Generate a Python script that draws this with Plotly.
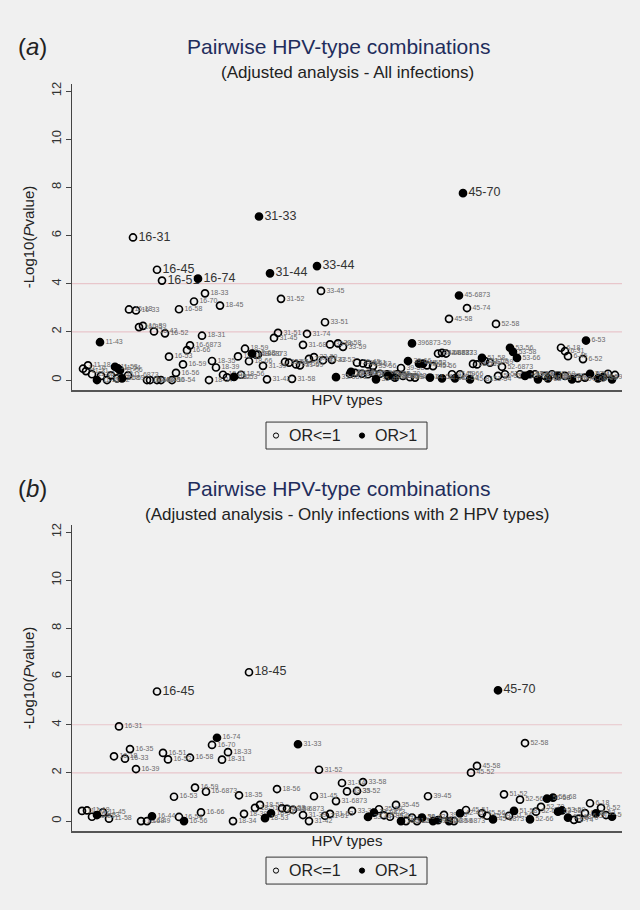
import plotly.graph_objects as go

# ---------------- Panel (a): all infections ----------------
a_labels = ["16-31","31-33","16-45","16-51","16-74","31-44","33-44","45-70",
 "18-33","16-70","18-45","16-58","31-52","33-45","16-18","16-33","16-35","16-39","16-42","16-52",
 "18-31","11-43","16-6873","16-66","16-53","16-59","16-56","18-35","18-39","18-59",
 "18-68","18-6873","18-66","31-39","31-51","31-45","31-74","31-68","31-53","31-54",
 "31-56","31-59","33-35","33-39","33-42","33-52","31-42","31-58","33-6873","18-34",
 "18-53","18-56","18-51","18-52","33-56","33-58","33-59","11-16","11-18","11-31",
 "11-53","11-54","11-56","11-33","11-35","11-39","11-42","11-45","11-58","11-59",
 "11-6873","16-44","16-48","16-49","16-50","16-54","18-58","18-70","35-39","45-6873",
 "45-74","45-58","52-58","33-51","6-53","396873-59","39-6873","42-6873","44-6873","53-56",
 "53-58","53-66","6-18","6-31","6-45","6-52","39-66","44-52","45-52","39-58",
 "45-51","45-56","51-58","51-52","51-53","51-56","51-59","52-6873","35-45","35-51",
 "35-52","35-56","33-70","35-42","35-53","35-54","35-58","35-59","35-66","35-68",
 "35-70","39-42","39-44","39-51","45-59","45-66","51-54","52-53","52-54","53-59",
 "54-56","56-59","58-59","6-39","6-44","6-51","6-70","6-74","35-44","35-6873",
 "39-40","44-51","44-58","45-54","45-81","53-70","53-6873","54-58","56-66","59-66",
 "6-40","6-54","6-58","6-59","6-68"]
a_order = [12.2,37.4,17.0,18.0,25.2,39.6,49.0,78.2,
 26.6,24.4,29.6,21.4,41.8,49.8,11.4,12.8,13.4,14.2,16.4,18.6,
 26.0,5.6,23.6,23.0,19.4,22.2,20.8,28.0,28.8,34.6,
 36.0,36.8,35.4,38.2,41.2,40.4,47.0,46.2,42.6,43.4,
 44.8,45.6,47.4,48.4,50.2,52.0,39.0,44.0,52.8,27.4,
 32.4,33.8,30.2,31.0,51.6,53.2,54.2,2.2,3.2,2.8,
 8.6,9.2,9.6,4.0,5.8,5.0,7.0,7.8,9.0,10.0,
 11.2,15.0,15.6,17.0,17.8,20.0,33.2,37.2,55.6,77.4,
 79.0,75.4,84.8,50.6,102.8,68.0,73.2,74.0,74.8,87.6,
 88.2,89.0,97.8,98.6,99.2,102.2,67.2,69.4,70.2,65.8,
 71.0,72.2,82.0,80.2,81.0,82.6,83.6,86.0,57.0,58.2,
 59.2,60.2,55.8,56.6,58.0,59.2,60.2,61.6,63.0,64.0,
 65.0,66.2,67.6,68.6,76.0,77.6,83.2,85.2,86.6,89.6,
 92.6,94.6,96.0,98.6,101.2,102.6,107.2,108.6,60.8,63.2,
 64.6,71.6,74.0,76.6,79.6,90.6,91.6,93.2,95.2,97.2,
 100.0,103.6,105.2,106.2,108.0]
a_logp = [5.92,6.79,4.58,4.13,4.21,4.43,4.73,7.76,
 3.60,3.26,3.09,2.94,3.37,3.70,2.93,2.89,2.20,2.25,2.02,1.94,
 1.84,1.57,1.44,1.24,0.97,0.65,0.30,0.79,0.52,1.30,
 1.10,1.05,0.78,0.59,1.96,1.75,1.92,1.46,0.75,0.72,
 0.65,0.61,0.88,0.95,0.82,0.84,0.03,0.05,0.12,0.00,
 0.13,0.22,0.22,0.11,1.48,1.52,1.38,0.47,0.61,0.37,
 0.55,0.48,0.41,0.24,0.17,0.00,0.00,0.19,0.07,0.07,
 0.19,0.00,0.00,0.00,0.00,0.00,0.98,1.06,0.25,3.51,
 2.99,2.54,2.33,2.40,1.64,1.52,1.10,1.13,1.10,1.34,
 1.17,0.92,1.34,1.20,0.99,0.87,0.79,0.68,0.68,0.50,
 0.61,0.58,0.92,0.67,0.65,0.79,0.72,0.55,0.72,0.69,
 0.65,0.58,0.34,0.30,0.26,0.24,0.30,0.26,0.24,0.17,
 0.24,0.17,0.12,0.10,0.24,0.24,0.03,0.17,0.24,0.24,
 0.24,0.17,0.24,0.17,0.07,0.10,0.26,0.21,0.03,0.17,
 0.10,0.10,0.07,0.07,0.03,0.17,0.24,0.03,0.07,0.17,
 0.03,0.26,0.07,0.12,0.03]
a_or_gt1 = [0,1,0,0,1,1,1,1,
 0,0,0,0,0,0,0,0,0,0,0,0,
 0,1,0,0,0,0,0,0,0,0,
 1,0,0,0,0,0,0,0,0,0,
 0,0,0,0,0,0,0,0,1,0,
 1,0,0,0,0,0,0,0,0,0,
 1,1,1,0,0,1,0,0,0,1,
 0,0,0,0,0,0,0,0,0,1,
 0,0,0,0,1,1,0,0,0,1,
 1,1,0,0,0,0,1,1,1,0,
 0,0,1,0,0,0,0,0,0,0,
 0,0,1,0,0,0,0,0,0,0,
 0,0,0,0,0,0,0,0,0,0,
 0,0,0,0,0,0,0,0,1,1,
 1,1,1,1,1,1,1,1,1,1,
 1,1,1,1,1]
a_big = ["16-31","31-33","16-45","16-51","16-74","31-44","33-44","45-70"]

# ---------------- Panel (b): only infections with 2 HPV types ----------------
b_labels = ["18-45","16-45","45-70","16-31","16-74","31-33","16-70","16-35","18-33","16-51",
 "16-18","16-33","16-52","16-58","18-31","16-39","31-52","16-59","16-6873","16-53",
 "18-35","18-56","31-45","31-6873","31-74","33-58","33-35","33-52","39-45","51-52",
 "52-56","56-58","56-68","6-18","6-52","6-59","6-56","52-70","52-68","51-58",
 "51-56","52-66","53-58","53-59","53-68","6-74","6-70","6-45","6-53","33-39",
 "33-44","33-6873","35-39","35-42","35-44","35-45","35-51","35-52","35-56","35-58",
 "39-42","39-51","39-52","39-59","39-56","39-6873","42-45","45-51","45-56","45-59",
 "45-6873","45-58","45-52","52-58","11-16","11-18","11-31","11-33","11-45","11-58",
 "16-44","16-54","16-56","16-66","16-48","16-49","18-34","18-39","18-51","18-52",
 "18-54","18-53","18-58","18-59","18-6873","31-39","31-42","31-51","31-53"]
b_order = [35.4,17.0,85.2,9.4,29.0,45.2,28.0,11.6,31.2,18.2,
 8.4,10.6,19.2,23.6,30.0,12.8,49.4,24.6,26.8,20.4,
 33.4,41.0,48.4,52.8,54.0,58.2,55.0,57.0,71.2,86.4,
 89.6,95.0,96.2,103.6,105.8,108.0,106.8,93.8,92.8,88.4,
 87.4,91.6,97.2,98.0,99.2,100.4,101.4,102.6,104.8,56.0,
 59.2,60.4,61.4,62.4,63.6,64.8,65.8,66.8,68.0,69.0,
 70.0,72.2,73.2,75.4,74.4,76.4,77.6,78.8,82.0,83.0,
 84.2,81.0,79.8,90.6,2.0,3.0,4.0,5.0,6.2,7.4,
 16.0,21.4,22.4,25.8,13.8,15.0,32.2,34.4,36.6,37.6,
 39.8,38.6,42.0,43.0,44.2,46.2,47.4,50.6,51.6]
b_logp = [6.18,5.38,5.43,3.93,3.46,3.19,3.16,2.99,2.86,2.83,
 2.69,2.59,2.56,2.63,2.55,2.16,2.13,1.39,1.22,1.01,
 1.07,1.33,1.03,0.83,1.58,1.62,1.23,1.25,1.03,1.11,
 0.89,0.93,0.97,0.74,0.55,0.18,0.25,0.59,0.39,0.42,
 0.22,0.07,0.39,0.44,0.14,0.05,0.10,0.33,0.32,0.42,
 0.17,0.35,0.49,0.24,0.18,0.67,0.00,0.00,0.14,0.00,
 0.14,0.00,0.04,0.00,0.26,0.00,0.32,0.46,0.32,0.22,
 0.07,2.29,2.01,3.24,0.42,0.44,0.18,0.25,0.36,0.10,
 0.20,0.17,0.00,0.36,0.00,0.00,0.00,0.30,0.55,0.67,
 0.32,0.12,0.53,0.51,0.47,0.25,0.00,0.22,0.30]
b_or_gt1 = [0,0,1,0,1,1,0,0,0,0,
 0,0,0,0,0,0,0,0,0,0,
 0,0,0,0,0,0,0,0,0,0,
 0,1,1,0,0,1,0,0,0,1,
 0,1,1,1,1,0,0,0,1,0,
 1,1,0,0,0,0,1,0,0,0,
 1,1,1,1,0,0,1,0,0,0,
 1,0,0,0,0,0,0,1,0,0,
 1,0,1,0,0,0,0,0,0,0,
 1,1,0,0,0,0,0,0,0]
b_big = ["18-45","16-45","45-70"]

y_ticks = [0, 2, 4, 6, 8, 10, 12]
legend_names = ["OR<=1", "OR>1"]

FONT = "Liberation Sans, Arial, sans-serif"
BG = "#f0f0f0"
X_MAX = 110
W, H = 640, 910

fig = go.Figure()


def add_panel(labels, order, logp, orflag, big, xa, ya):
    for flag in (0, 1):
        idx = [i for i in range(len(labels)) if orflag[i] == flag]
        lab = [labels[i] for i in idx]
        xs = [order[i] for i in idx]
        sizes = [12.5 if l in big else 7 for l in lab]
        cols = ["#333333" if l in big else "#6a6a6a" for l in lab]
        pos = ["middle left" if x > X_MAX - 3 else "middle right" for x in xs]
        fig.add_trace(go.Scatter(
            x=xs, y=[logp[i] for i in idx], name=legend_names[flag],
            text=lab, mode="markers+text", textposition=pos,
            textfont=dict(size=sizes, color=cols, family=FONT),
            marker=dict(symbol="circle-open" if flag == 0 else "circle",
                        size=7, color="black", line=dict(width=1.7, color="black")),
            xaxis=xa, yaxis=ya, showlegend=False, hoverinfo="text"))


add_panel(a_labels, a_order, a_logp, a_or_gt1, a_big, "x", "y")
add_panel(b_labels, b_order, b_logp, b_or_gt1, b_big, "x2", "y2")

xdom = [72/W, 622/W]
ydom_a = [(H-389)/H, (H-82)/H]
ydom_b = [(H-831)/H, (H-524)/H]

xcommon = dict(range=[0, X_MAX], showticklabels=False, ticks="", showgrid=False,
               zeroline=False, showline=True, linecolor="#555555", linewidth=1.6,
               title=dict(text="HPV types", font=dict(size=15, color="#222", family=FONT), standoff=4))
ycommon = dict(range=[-0.42, 12.3], tickvals=y_ticks, tickangle=-90, ticks="outside",
               ticklen=5, tickcolor="#444", showgrid=False, zeroline=False,
               showline=True, linecolor="#444444", linewidth=1,
               tickfont=dict(size=13, color="#333", family=FONT),
               title=dict(text="-Log10(<i>P</i>value)", font=dict(size=15, color="#222", family=FONT),
                          standoff=10))

fig.update_layout(
    width=W, height=H, autosize=False,
    paper_bgcolor=BG, plot_bgcolor=BG,
    margin=dict(l=0, r=0, t=0, b=0),
    font=dict(family=FONT),
    showlegend=False,
    xaxis=dict(domain=xdom, anchor="y", **xcommon),
    yaxis=dict(domain=ydom_a, anchor="x", **ycommon),
    xaxis2=dict(domain=xdom, anchor="y2", **xcommon),
    yaxis2=dict(domain=ydom_b, anchor="x2", **ycommon),
)

# significance lines at 2 and 4
for ya, xa in (("y", "x"), ("y2", "x2")):
    for v in (2, 4):
        fig.add_shape(type="line", xref=f"{xa} domain", yref=ya, x0=0, x1=1, y0=v, y1=v,
                      line=dict(color="#e8c6cb", width=1.2), layer="below")

# titles and legend boxes
for lbl, ytop, sub, leg_top in (("a", 45, "(Adjusted analysis - All infections)", 421),
                                ("b", 488, "(Adjusted analysis - Only infections with 2 HPV types)", 857)):
    fig.add_annotation(text=f"(<i>{lbl}</i>)", x=16/W, y=(H-ytop)/H, xref="paper", yref="paper",
                       xanchor="left", yanchor="middle", showarrow=False,
                       font=dict(size=24, color="#222", family=FONT))
    fig.add_annotation(text="Pairwise HPV-type combinations", x=338/W, y=(H-ytop)/H,
                       xref="paper", yref="paper", xanchor="center", yanchor="middle",
                       showarrow=False, font=dict(size=21, color="#1f2d5c", family=FONT))
    fig.add_annotation(text=sub, x=347/W, y=(H-ytop-26)/H,
                       xref="paper", yref="paper", xanchor="center", yanchor="middle",
                       showarrow=False, font=dict(size=17, color="#222", family=FONT))
    # legend
    yc = leg_top + 13.5
    fig.add_shape(type="rect", xref="paper", yref="paper",
                  x0=266/W, x1=427/W, y0=(H-leg_top-27)/H, y1=(H-leg_top)/H,
                  line=dict(color="#333333", width=1), fillcolor=BG)
    for cx, filled, name in ((276, False, legend_names[0]), (362, True, legend_names[1])):
        r = 2.6
        fig.add_shape(type="circle", xref="paper", yref="paper",
                      x0=(cx-r)/W, x1=(cx+r)/W, y0=(H-yc-r)/H, y1=(H-yc+r)/H,
                      line=dict(color="black", width=1),
                      fillcolor="black" if filled else "rgba(0,0,0,0)")
        fig.add_annotation(text=name, x=(cx+11)/W, y=(H-yc)/H, xref="paper", yref="paper",
                           xanchor="left", yanchor="middle", showarrow=False,
                           font=dict(size=16, color="#222", family=FONT))

fig.write_html("out.html",
               config={"displayModeBar": False},
               post_script="document.body.style.margin='0';"
                           "document.body.style.background='#f0f0f0';"
                           "document.documentElement.style.overflow='hidden';")
